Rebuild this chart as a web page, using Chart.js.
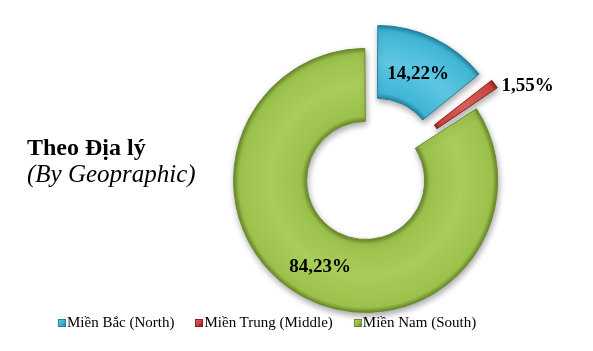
<!DOCTYPE html>
<html>
<head>
<meta charset="utf-8">
<script src="https://cdn.jsdelivr.net/npm/chart.js@4.4.1/dist/chart.umd.min.js"></script>
<style>
  html, body { margin: 0; padding: 0; background: #fff; }
  #wrap { position: relative; width: 593px; height: 351px; overflow: hidden; }
  #geo-chart { position: absolute; left: 0; top: 0; }
  .txt { position: absolute; font-family: 'Liberation Serif', 'Times New Roman', serif; color: #000; white-space: nowrap; }
  #t1 { left: 27px; top: 135px; font-size: 24px; line-height: 24px; font-weight: bold; }
  #t2 { left: 27px; top: 161px; font-size: 25px; line-height: 25px; font-style: italic; }
  #legend { position: absolute; left: 58px; top: 315px; display: flex; font-family: 'Liberation Serif', 'Times New Roman', serif; font-size: 15px; line-height: 15px; }
  .item { display: flex; align-items: center; margin-right: 21px; }
  .box { width: 8px; height: 8px; margin-right: 1px; box-sizing: border-box; }
</style>
</head>
<body>
<div id="wrap">
  <canvas id="geo-chart" width="593" height="351"></canvas>
  <div class="txt" id="t1">Theo Địa lý</div>
  <div class="txt" id="t2">(By Geopraphic)</div>
  <div id="legend"></div>
</div>
<script>
const regions = ['Miền Bắc (North)', 'Miền Trung (Middle)', 'Miền Nam (South)'];
const shares = [14.22, 1.55, 84.23];
const shareLabels = ['14,22%', '1,55%', '84,23%'];

const fills = ['#3fb6d6', '#cf433e', '#9cc14b'];
const lights = ['#5ec6e2', '#e06460', '#a9cc5a'];
const edges = ['#23819f', '#8a2421', '#6a8a2b'];
const offsets = [84, 62, 20];

const RADIUS = 127;
const CUT = 0.426;
const total = shares.reduce((a, b) => a + b, 0);

// how much chart.js grows each arc's radii when it is offset
const radiusShift = i => {
    const circ = shares[i] / total * Math.PI * 2;
    const fix = 1 - Math.sin(Math.min(Math.PI, circ));
    return offsets[i] / 4 * fix;
};

const shade = c => {
    const i = c.dataIndex;
    const area = c.chart.chartArea;
    if (!area) return fills[i];
    const cx = (area.left + area.right) / 2;
    const cy = (area.top + area.bottom) / 2;
    const grow = radiusShift(i);
    const g = c.chart.ctx.createRadialGradient(cx, cy, RADIUS * CUT + grow, cx, cy, RADIUS + grow);
    g.addColorStop(0, edges[i]);
    g.addColorStop(0.07, fills[i]);
    g.addColorStop(0.5, lights[i]);
    g.addColorStop(0.93, fills[i]);
    g.addColorStop(1, edges[i]);
    return g;
};

const sliceText = {
    id: 'sliceText',
    beforeDatasetsDraw(chart) {
        const ctx = chart.ctx;
        ctx.save();
        ctx.shadowColor = 'rgba(0,0,0,0.35)';
        ctx.shadowBlur = 6;
        ctx.shadowOffsetX = 1;
        ctx.shadowOffsetY = 3;
    },
    afterDatasetsDraw(chart) {
        const ctx = chart.ctx;
        ctx.restore();
        const meta = chart.getDatasetMeta(0);
        ctx.save();
        ctx.font = 'bold 19px "Liberation Serif", serif';
        ctx.fillStyle = '#000';
        ctx.textBaseline = 'middle';
        meta.data.forEach((arc, i) => {
            const p = arc.getProps(['x', 'y', 'startAngle', 'endAngle', 'innerRadius', 'outerRadius'], true);
            const half = (p.startAngle + p.endAngle) / 2;
            const move = offsets[i] / 4 + radiusShift(i);
            if (i === 1) {
                const r = p.outerRadius + move;
                ctx.textAlign = 'left';
                ctx.fillText(shareLabels[i], p.x + Math.cos(half) * r + 7, p.y + Math.sin(half) * r + 2);
            } else {
                const r = (p.innerRadius + p.outerRadius) / 2 + move;
                ctx.textAlign = 'center';
                ctx.fillText(shareLabels[i], p.x + Math.cos(half) * r, p.y + Math.sin(half) * r + 3);
            }
        });
        ctx.restore();
    }
};

new Chart(document.getElementById('geo-chart'), {
    type: 'doughnut',
    data: {
        labels: regions,
        datasets: [{
            data: shares,
            backgroundColor: shade,
            borderColor: edges,
            borderWidth: 1,
            offset: offsets,
            clip: false
        }]
    },
    options: {
        responsive: false,
        animation: false,
        devicePixelRatio: 1,
        radius: RADIUS,
        cutout: (CUT * 100) + '%',
        layout: { padding: { left: 143, right: 0, top: 1, bottom: 0 } },
        plugins: {
            legend: { display: false },
            tooltip: { enabled: false }
        }
    },
    plugins: [sliceText]
});

const legend = document.getElementById('legend');
regions.forEach((name, i) => {
    const item = document.createElement('div');
    item.className = 'item';
    const box = document.createElement('span');
    box.className = 'box';
    box.style.background = 'linear-gradient(135deg,' + lights[i] + ',' + fills[i] + ' 50%,' + edges[i] + ')';
    box.style.border = '1px solid ' + edges[i];
    const label = document.createElement('span');
    label.textContent = name;
    item.appendChild(box);
    item.appendChild(label);
    legend.appendChild(item);
});
</script>
</body>
</html>
